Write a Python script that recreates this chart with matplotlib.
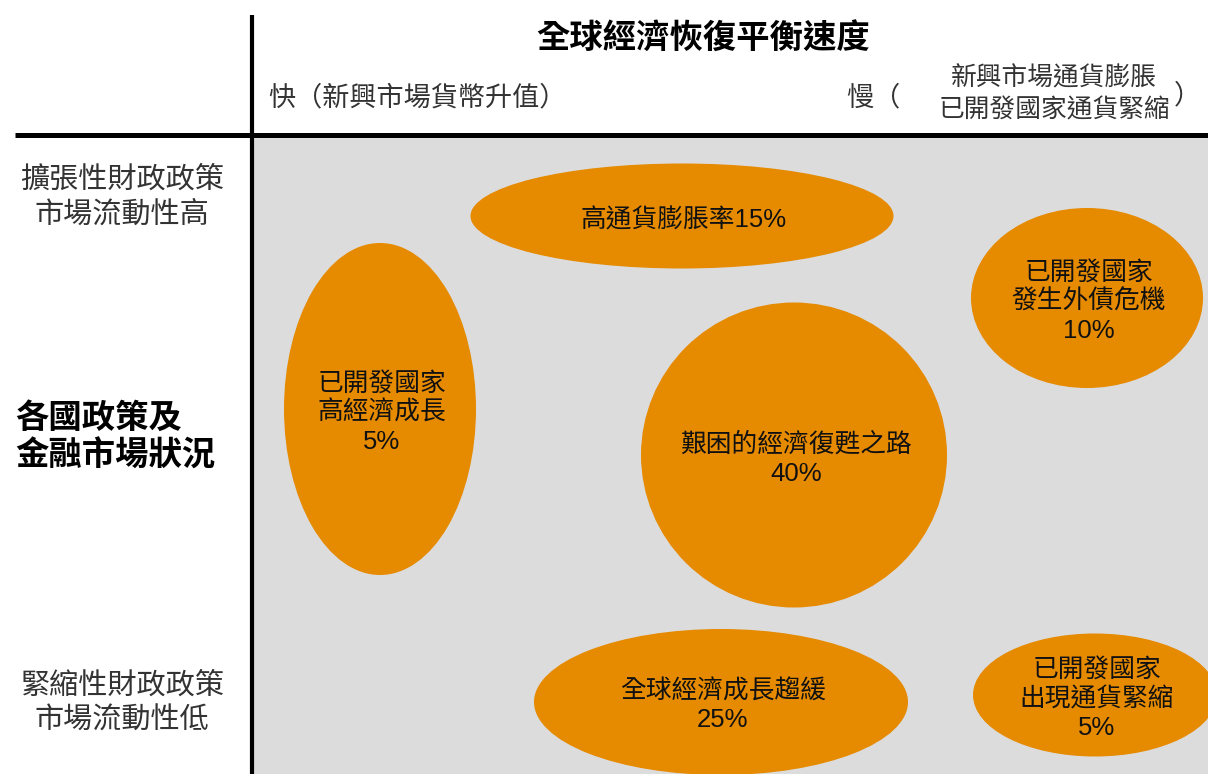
import matplotlib
matplotlib.use('Agg')
import matplotlib.pyplot as plt
from matplotlib.patches import Ellipse, Rectangle

CJK = ['Noto Sans CJK TC', 'DejaVu Sans']
NUM = ['Liberation Sans', 'Noto Sans CJK TC']

W, H = 1208, 774

TITLE = '全球經濟恢復平衡速度'
ROW_TITLE = '各國政策及\n金融市場狀況'
FAST = '快（新興市場貨幣升值）'
SLOW = '慢（'
SLOW_DETAIL = '新興市場通貨膨脹\n已開發國家通貨緊縮'
TOP_ROW = '擴張性財政政策\n市場流動性高'
BOTTOM_ROW = '緊縮性財政政策\n市場流動性低'

# scenarios and their probabilities
scenarios = ['高通貨膨脹率', '已開發國家\n發生外債危機', '已開發國家\n高經濟成長',
             '艱困的經濟復甦之路', '全球經濟成長趨緩', '已開發國家\n出現通貨緊縮']
probs = [15, 10, 5, 40, 25, 5]
one_line = [True, False, False, False, False, False]

# bubble placement on the canvas (pixels, y down)
cx = [682, 1087, 380, 794, 721, 1095]
cy = [216, 298, 409, 455, 702, 695]
ew = [423, 232, 192, 306, 374, 244]
eh = [105, 180, 332, 305, 146, 123]

ORANGE = '#E68A00'
PANEL = '#DCDCDC'
GREY_TXT = '#333333'

fig = plt.figure(figsize=(W / 100, H / 100), dpi=100)
ax = fig.add_axes([0, 0, 1, 1])
ax.set_xlim(0, W)
ax.set_ylim(H, 0)
ax.axis('off')

ax.add_patch(Rectangle((252, 136), W - 252, H - 136, color=PANEL, zorder=0))
ax.plot([252, 252], [15, H], color='black', lw=3, solid_capstyle='butt', zorder=3)
ax.plot([15, W], [135, 135], color='black', lw=3.6, solid_capstyle='butt', zorder=3)

for i, name in enumerate(scenarios):
    ax.add_patch(Ellipse((cx[i], cy[i]), ew[i], eh[i], color=ORANGE, lw=0, zorder=1))
    sep = '' if one_line[i] else '\n'
    ax.text(cx[i] + 2, cy[i] + 4, f'{name}{sep}{probs[i]}%', family=NUM, size=18.5,
            ha='center', va='center', ma='center', linespacing=1.25,
            color='#111111', zorder=2)

ax.text(703, 39, TITLE, family=CJK, size=24, weight='bold', ha='center', va='center')
ax.text(268, 98, FAST, family=CJK, size=19.5, ha='left', va='center', color=GREY_TXT)
ax.text(846, 98, SLOW, family=CJK, size=19.5, ha='left', va='center', color=GREY_TXT)
ax.text(1054, 94, SLOW_DETAIL, family=CJK, size=18.5, ha='center', va='center',
        ma='center', linespacing=1.3, color=GREY_TXT)
ax.text(1174, 96, '）', family=CJK, size=19.5, ha='left', va='center', color=GREY_TXT)

ax.text(122, 197, TOP_ROW, family=CJK, size=21, ha='center', va='center',
        ma='center', linespacing=1.2, color=GREY_TXT)
ax.text(15, 437, ROW_TITLE, family=CJK, size=24, weight='bold', ha='left', va='center',
        ma='left', linespacing=1.2)
ax.text(122, 703, BOTTOM_ROW, family=CJK, size=21, ha='center', va='center',
        ma='center', linespacing=1.2, color=GREY_TXT)

fig.savefig('out.png', dpi=100, facecolor='white')
